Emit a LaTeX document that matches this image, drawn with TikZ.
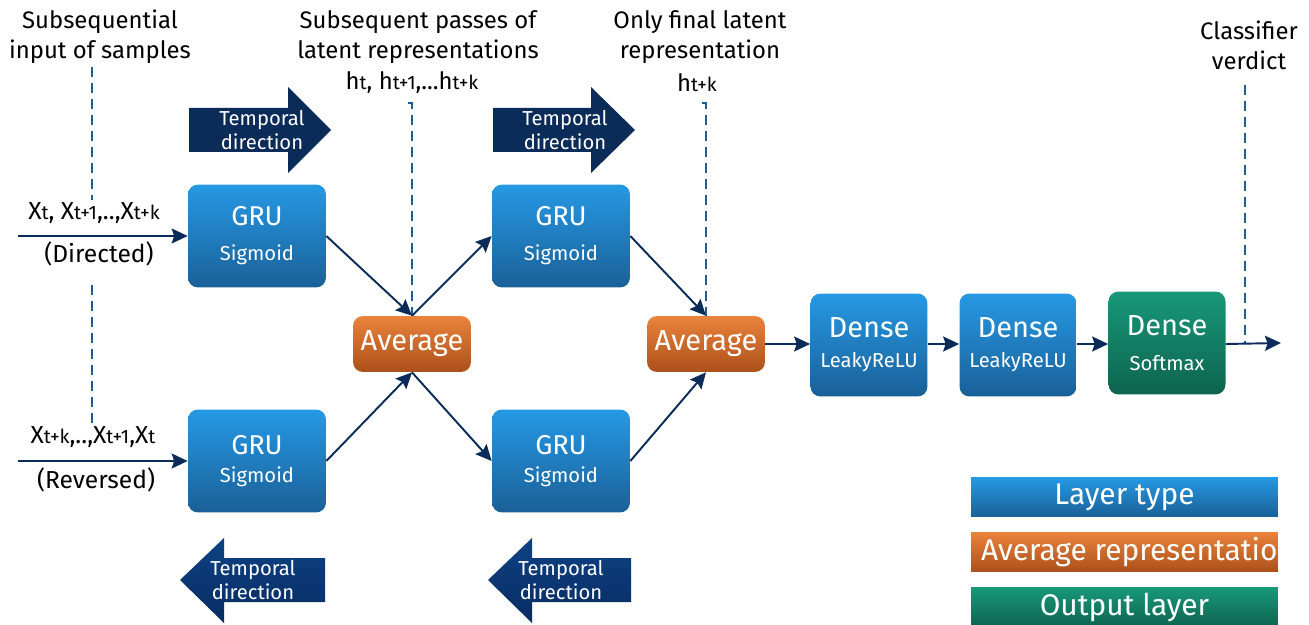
\documentclass[tikz,border=0pt]{standalone}
\usepackage{fontspec}
\setmainfont{Fira Sans}
\usepackage{xcolor}
\usepackage{tikz}
\usetikzlibrary{positioning, arrows.meta}

\definecolor{navy}{RGB}{11,43,88}
\definecolor{navytop}{RGB}{14,66,132}
\definecolor{navybot}{RGB}{8,44,98}
\definecolor{grutop}{RGB}{38,153,228}
\definecolor{grubot}{RGB}{26,96,152}
\definecolor{avgtop}{RGB}{234,131,60}
\definecolor{avgbot}{RGB}{172,80,26}
\definecolor{outtop}{RGB}{24,152,122}
\definecolor{outbot}{RGB}{13,100,78}
\definecolor{guidecol}{RGB}{30,94,150}

\newcommand{\sidx}[1]{{\fontsize{11}{12}\selectfont #1}}

\begin{document}
\begin{tikzpicture}[
      x=0.02cm, y=-0.02cm,
      every node/.style={align=center, inner sep=0pt},
      box/.style={rounded corners=0.2cm, minimum width=2.76cm, minimum height=2.06cm, text=white},
      grubox/.style={box, top color=grutop, bottom color=grubot},
      avgbox/.style={box, top color=avgtop, bottom color=avgbot, minimum width=2.36cm, minimum height=1.12cm,
                     font=\fontsize{16.5}{19}\selectfont},
      densebox/.style={grubox, minimum width=2.34cm},
      outbox/.style={densebox, top color=outtop, bottom color=outbot},
      legbox/.style={minimum width=6.14cm, minimum height=0.8cm, text=white, font=\fontsize{17}{20}\selectfont},
      caption/.style={font=\fontsize{13.6}{17}\selectfont},
      inlabel/.style={font=\fontsize{14}{16}\selectfont, fill=white, inner sep=1pt},
      tdir/.style={text=white, font=\fontsize{11.5}{14}\selectfont},
      arrow/.style={-{Stealth[length=0.32cm, width=0.3cm, inset=0.05cm]}, navy, line width=1.1pt},
      guide/.style={guidecol, line width=1pt, dash pattern=on 0.2cm off 0.12cm}
  ]
  \useasboundingbox (0,0) rectangle (1309,625);

  % Guide lines ------------------------------------------------
  \draw[guide] (92,67) -- (92,200);
  \draw[guide] (92,285) -- (92,427);
  \draw[guide] (408,103) -- (412,103) -- (412,316);
  \draw[guide] (702,103) -- (706,103) -- (706,316);
  \draw[guide] (1245,85) -- (1245,343);

  % Temporal direction arrows
  \fill[navy] (189,108) -- (288,108) -- (288,87) -- (331,130) -- (288,173) -- (288,152) -- (189,152) -- cycle;
  \fill[navy] (493,108) -- (591,108) -- (591,87) -- (635,130) -- (591,173) -- (591,152) -- (493,152) -- cycle;
  \shade[top color=navytop, bottom color=navybot] (180,580) -- (224,538) -- (224,558) -- (325,558)
        -- (325,602) -- (224,602) -- (224,623) -- cycle;
  \shade[top color=navytop, bottom color=navybot] (488,580) -- (532,538) -- (532,558) -- (631,558)
        -- (631,602) -- (532,602) -- (532,623) -- cycle;
  \node[tdir] (tdir1) at (262,130) {Temporal\\direction};
  \node[tdir] (tdir2) at (565,130) {Temporal\\direction};
  \node[tdir] (tdir3) at (253,580) {Temporal\\direction};
  \node[tdir] (tdir4) at (561,580) {Temporal\\direction};

  % Nodes ------------------------------------------------
  \node[grubox] (gruup1)   at (257,236) {{\fontsize{15.5}{18}\selectfont GRU}\\[8pt]{\fontsize{11.5}{14}\selectfont Sigmoid}};
  \node[grubox] (grudown1) at (257,461) {{\fontsize{15.5}{18}\selectfont GRU}\\[4pt]{\fontsize{11.5}{14}\selectfont Sigmoid}};
  \node[avgbox] (avg1)     at (412,344) {Average};
  \node[grubox] (gruup2)   at (561,236) {{\fontsize{15.5}{18}\selectfont GRU}\\[8pt]{\fontsize{11.5}{14}\selectfont Sigmoid}};
  \node[grubox] (grudown2) at (561,461) {{\fontsize{15.5}{18}\selectfont GRU}\\[4pt]{\fontsize{11.5}{14}\selectfont Sigmoid}};
  \node[avgbox] (avg2)     at (706,344) {Average};
  \node[densebox] (dense1) at (869,345) {{\fontsize{16.5}{19}\selectfont Dense}\\[5pt]{\fontsize{11.5}{14}\selectfont LeakyReLU}};
  \node[densebox] (dense2) at (1018,345) {{\fontsize{16.5}{19}\selectfont Dense}\\[5pt]{\fontsize{11.5}{14}\selectfont LeakyReLU}};
  \node[outbox]   (dense3) at (1167,343) {{\fontsize{16.5}{19}\selectfont Dense}\\[8pt]{\fontsize{11.5}{14}\selectfont Softmax}};

  % Labels
  \node[caption] (incap)  at (100,37)  {Subsequential\\input of samples};
  \node[caption] (latcap) at (418,37)  {Subsequent passes of\\latent representations};
  \node[caption] (fincap) at (700,37)  {Only final latent\\representation};
  \node[caption] (outcap) at (1249,45) {Classifier\\verdict};
  \node[caption] (hall)   at (412,83)  {h\sidx{t}, h\sidx{t+1},...h\sidx{t+k}};
  \node[caption] (hlast)  at (697,83)  {h\sidx{t+k}};
  \node[inlabel] (xdir)   at (94,213)  {X\sidx{t}, X\sidx{t+1},..,X\sidx{t+k}};
  \node[inlabel] (dirtxt) at (99,254)  {(Directed)};
  \node[inlabel] (xrev)   at (93,437)  {X\sidx{t+k},..,X\sidx{t+1},X\sidx{t}};
  \node[inlabel] (revtxt) at (96,480)  {(Reversed)};

  % Legend
  \node[legbox, top color=grutop, bottom color=grubot] (leglayer) at (1124.5,497) {Layer type};
  \node[legbox, top color=avgtop, bottom color=avgbot] (legavg) at (1124.5,552) {\phantom{A}};
  \begin{scope}
    \clip (legavg.south west) rectangle (legavg.north east);
    \node[legbox, anchor=west, minimum width=0pt] (legavgtxt) at ([xshift=0.2cm]legavg.west) {Average representation};
  \end{scope}
  \node[legbox, top color=outtop, bottom color=outbot] (legout) at (1124.5,607) {Output layer};

  % Arrows ------------------------------------------------
  \coordinate (in1) at (18,236);
  \coordinate (in2) at (18,461);
  \coordinate (out) at (1281,343);
  \draw[arrow] (in1) -- (gruup1.west);
  \draw[arrow] (in2) -- (grudown1.west);
  \draw[arrow] (gruup1.east) -- (avg1.north);
  \draw[arrow] (grudown1.east) -- (avg1.south);
  \draw[arrow] (avg1.north) -- (gruup2.west);
  \draw[arrow] (avg1.south) -- (grudown2.west);
  \draw[arrow] (gruup2.east) -- (avg2.north);
  \draw[arrow] (grudown2.east) -- (avg2.south);
  \draw[arrow] (avg2) -- (dense1.west |- avg2);
  \draw[arrow] (dense1.east |- avg2) -- (dense2.west |- avg2);
  \draw[arrow] (dense2.east |- avg2) -- (dense3.west |- avg2);
  \draw[arrow] (dense3.east |- avg2) -- (out);
\end{tikzpicture}
\end{document}
